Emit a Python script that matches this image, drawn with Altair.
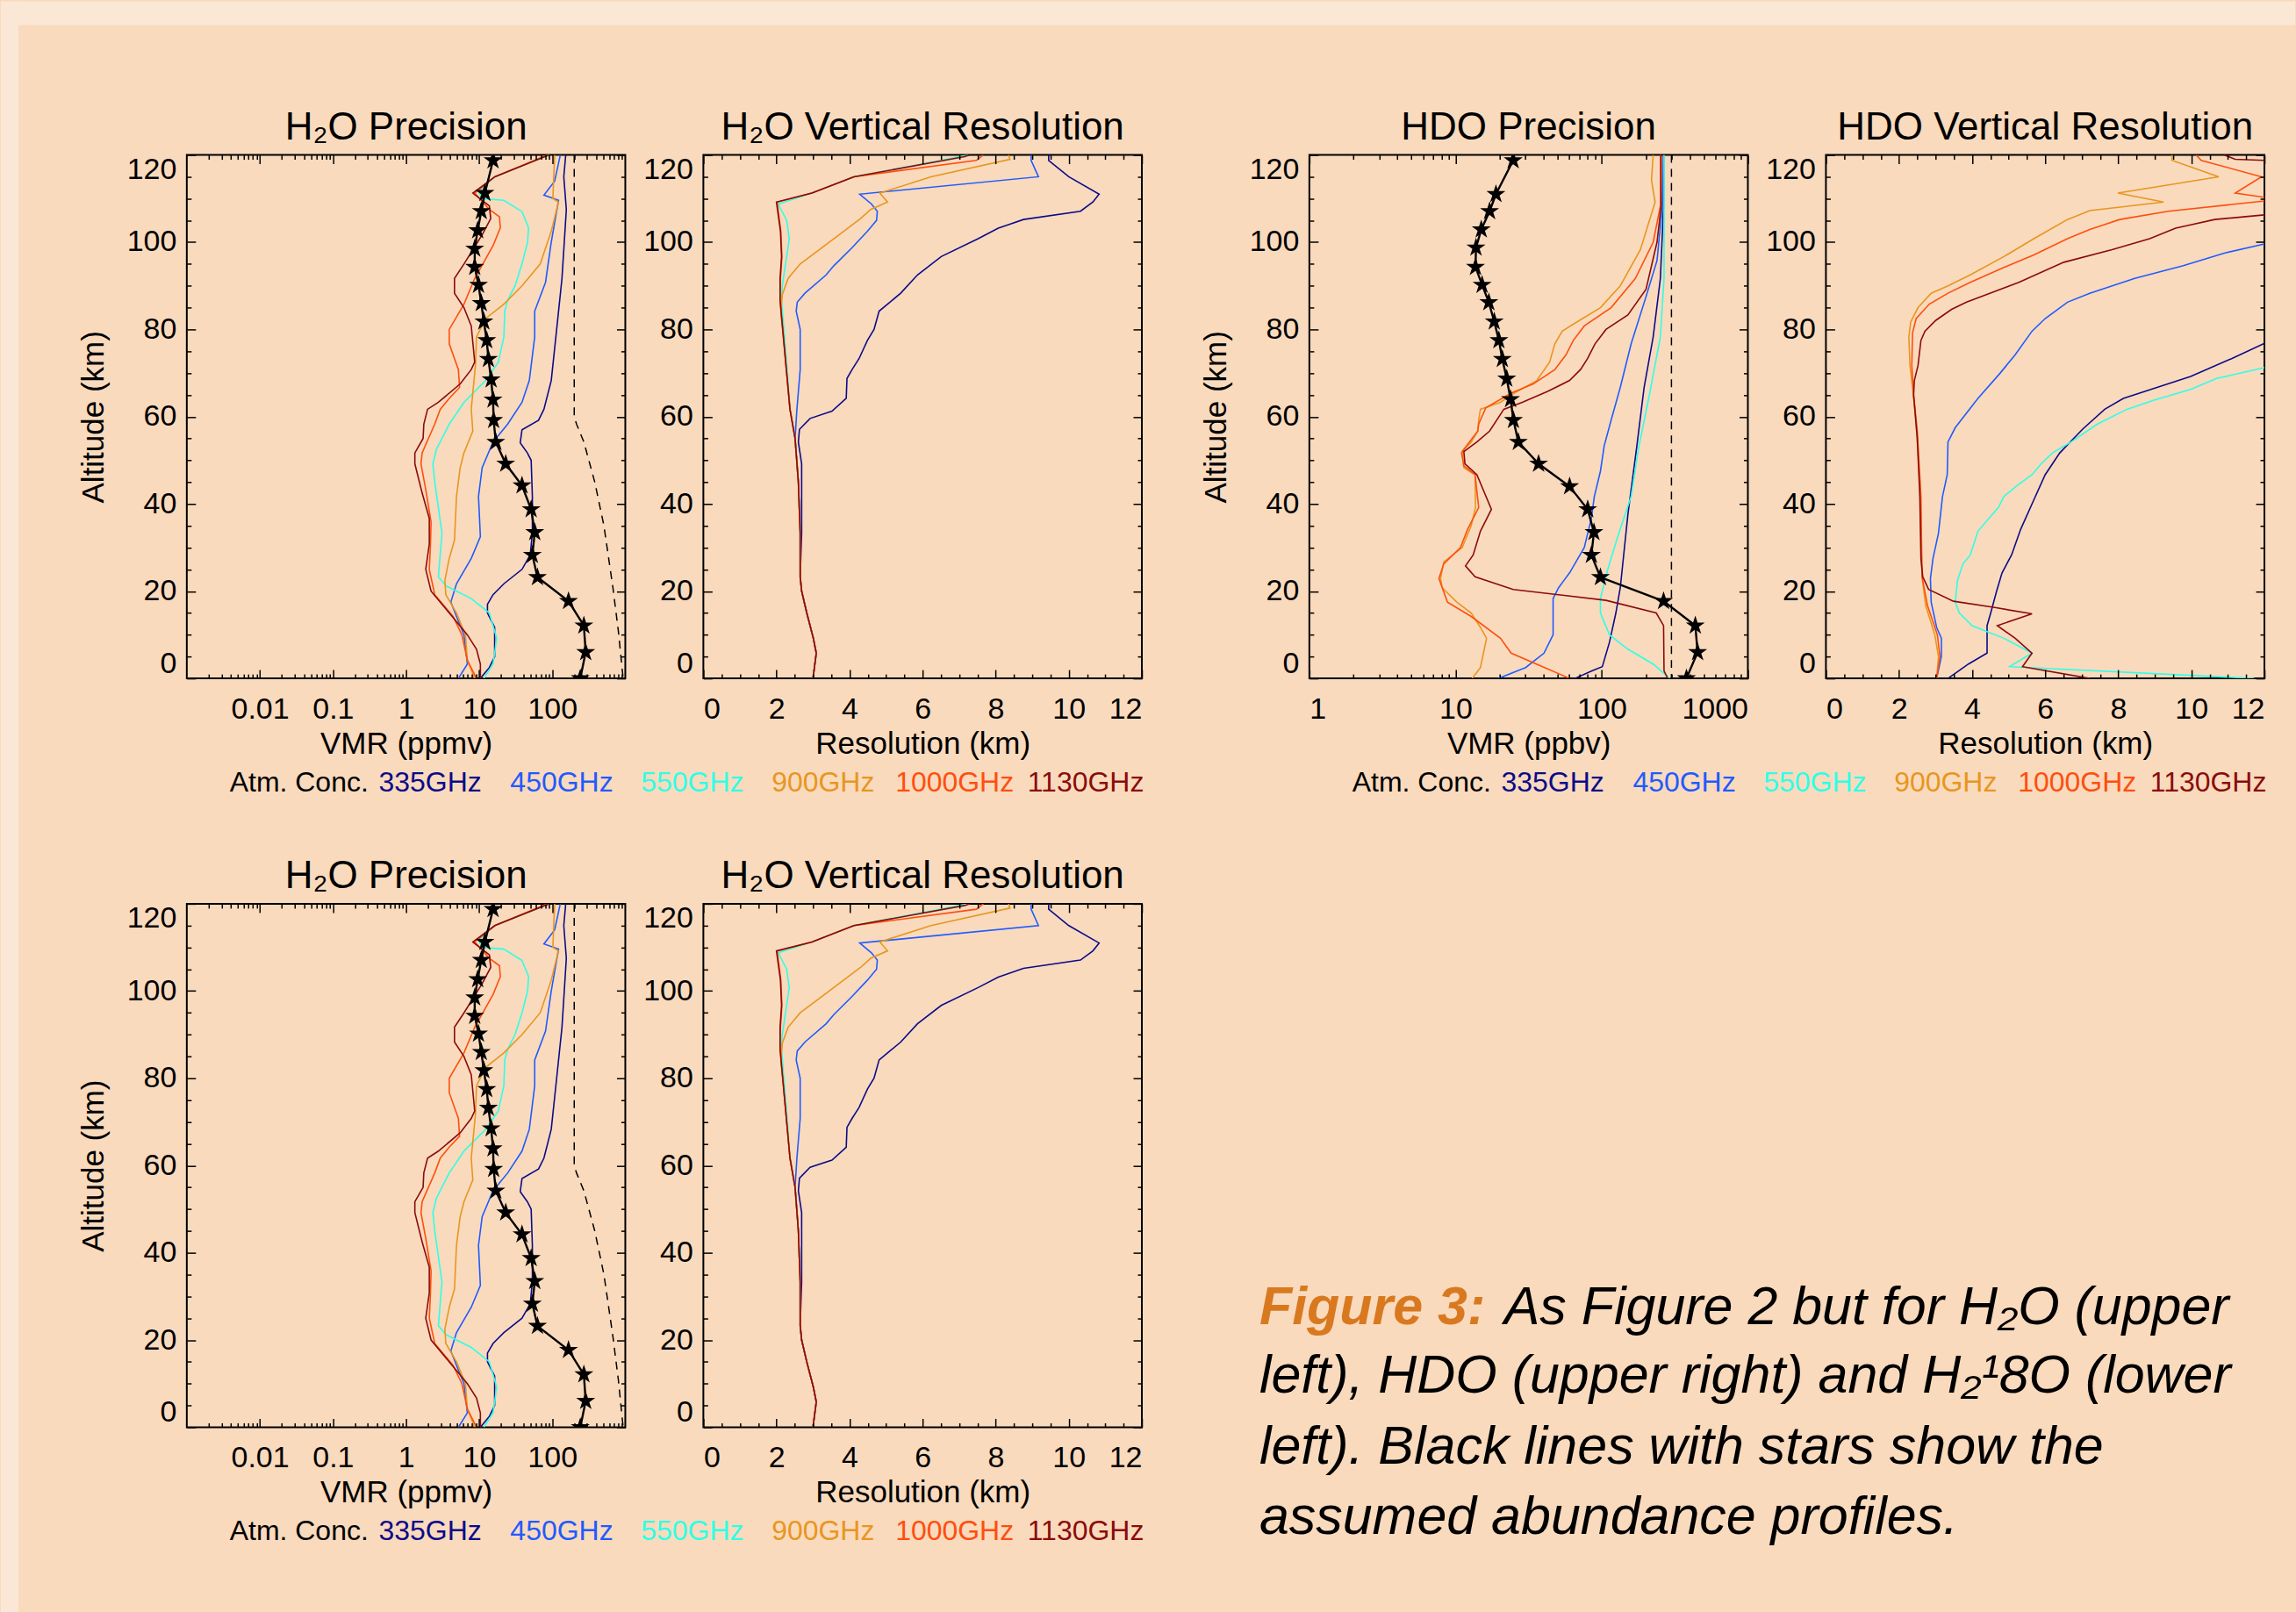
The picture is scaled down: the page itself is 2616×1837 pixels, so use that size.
import altair as alt
import pandas as pd

FONT = "Liberation Sans"
OUTER_BG = "#FBE7D6"
INNER_BG = "#F9DABD"

FREQS = ["335GHz", "450GHz", "550GHz", "900GHz", "1000GHz", "1130GHz"]
FREQ_COLORS = ["#0b0b8a", "#1f5bff", "#2effe6", "#e8961e", "#ff4e0e", "#8b0b0b"]
LEGEND_LABELS = ["Atm. Conc."] + FREQS
LEGEND_COLORS = ["black"] + FREQ_COLORS

ALT_MAJOR = [0, 20, 40, 60, 80, 100, 120]
ALT_MINOR = [5, 10, 15, 25, 30, 35, 45, 50, 55, 65, 70, 75, 85, 90, 95, 105, 110, 115]
PPMV_LABELS = [0.01, 0.1, 1, 10, 100]
PPMV_MINOR = [round(m * 10.0 ** e, 6) for e in range(-3, 3) for m in range(2, 10)]
PPBV_LABELS = [1, 10, 100, 1000]
PPBV_MINOR = [round(m * 10.0 ** e, 6) for e in range(0, 3) for m in range(2, 10)]
RES_LABELS = [0, 2, 4, 6, 8, 10, 12]
RES_MINOR = [0.5, 1, 1.5, 2.5, 3, 3.5, 4.5, 5, 5.5, 6.5, 7, 7.5, 8.5, 9, 9.5, 10.5, 11, 11.5]

TITLES = ["H₂O Precision", "H₂O Vertical Resolution", "HDO Precision", "HDO Vertical Resolution"]
CAPTION_HEAD = "Figure 3:"
CAPTION_LINES = ["As Figure 2 but for H₂O (upper",
                 "left), HDO (upper right) and H₂¹8O (lower",
                 "left). Black lines with stars show the",
                 "assumed abundance profiles."]

# ---------------- H2O precision (altitude km, VMR ppmv) ----------------
H2O_ATM = [(118.75, 15.5), (111.25, 12.0), (107.1, 10.7), (102.7, 9.55), (98.5, 8.7), (94.3, 8.7),
           (90.2, 9.8), (86.0, 10.7), (81.8, 11.6), (77.5, 12.7), (73.2, 13.4), (68.5, 14.6),
           (63.9, 15.5), (59.2, 15.8), (54.2, 16.9), (49.2, 23.1), (44.2, 38.6), (38.75, 51.5),
           (33.5, 57.7), (28.3, 53.5), (23.2, 62.8), (17.7, 167), (12.1, 271), (6.0, 287), (0.0, 242)]
H2O_DASH = [(120, 200), (60, 200), (58.3, 215), (54.2, 271), (45, 382), (35, 510), (20.8, 677),
            (10.8, 804), (2.5, 902), (0, 934)]
H2O_P_335 = [(120, 153), (115, 144), (107.5, 156), (91.7, 136), (80, 115), (68.3, 97), (61.7, 77),
             (59.2, 65), (57, 38.6), (54, 36.5), (51.7, 45.7), (50, 51.5), (41.7, 53.5), (33.3, 53.5),
             (28.3, 50), (25, 38.6), (21.7, 21.8), (19.2, 15.5), (17, 13), (15, 13), (11.7, 16.3),
             (5, 16.3), (2.5, 13.8), (0, 10.4)]
H2O_P_450 = [(120, 129), (114, 108), (110.8, 77), (109.6, 122), (100, 97), (90.8, 81), (84.2, 57.6),
             (78.3, 57.6), (68.3, 48.6), (63.3, 38.6), (58.3, 24.6), (54.2, 15.5), (48.3, 11),
             (41.7, 9.8), (32.5, 10.4), (27.5, 7.8), (21.7, 4.9), (17.5, 4.1), (14.2, 4.9), (10, 6.2),
             (3.3, 6.9), (0, 5.2)]
H2O_P_550 = [(120, 91), (115, 16.4), (111.7, 9.8), (110, 11), (109.6, 21.8), (107, 38.6), (103.3, 47.5),
             (100, 46), (95, 38.6), (90, 31), (86.7, 24.6), (84.2, 22.4), (78.3, 21.8), (72.5, 18.3),
             (68.3, 12.3), (63.3, 6.2), (58.3, 3.9), (52.5, 2.6), (49.2, 2.33), (45, 2.47), (33.3, 3.1),
             (23.3, 2.77), (21.25, 3.5), (18.3, 7.8), (15, 13.8), (9.2, 17.4), (3.3, 15.5), (0, 11.6)]
H2O_P_900 = [(120, 108), (110, 102), (109.2, 122), (102.5, 97), (95, 68.5), (90, 38.6), (85.8, 21.8),
             (82.5, 12.3), (78.3, 9.2), (71.7, 8.9), (61.7, 7.8), (56.7, 8.2), (51.7, 6.2), (48.3, 5.5),
             (41.7, 4.9), (31.7, 4.6), (27.5, 3.9), (22.5, 3.4), (19.2, 3.5), (15, 4.9), (10, 6.5),
             (4.2, 6.9), (0, 8.7)]
H2O_P_1000 = [(120, 86), (115, 16.4), (111.25, 8.7), (107.5, 13.8), (105.8, 19), (103.3, 19.5),
              (99.2, 15.5), (91.7, 8.7), (85.8, 6.2), (80, 3.9), (76.7, 3.9), (70.8, 5.2), (66.7, 5.4),
              (64.2, 3.9), (61.7, 2.94), (58.3, 2.47), (51.7, 1.66), (49.2, 1.6), (43.3, 1.86),
              (35.8, 2.2), (30, 2.15), (25, 2.08), (19.2, 2.47), (14.2, 4.4), (10, 5.8), (4.2, 6.9),
              (0, 9.2)]
H2O_P_1130 = [(120, 91), (115, 16.4), (111.25, 8.2), (108.3, 13.8), (105.4, 14.4), (101.7, 11),
              (95, 6.2), (91.7, 4.6), (88.3, 4.6), (85, 6.2), (80.8, 7.8), (72.5, 8.7), (70.8, 7.8),
              (67.5, 5.5), (63.3, 2.77), (61.7, 1.97), (58.3, 1.75), (55, 1.71), (51.7, 1.32),
              (49.2, 1.32), (42.5, 1.66), (36.7, 2.08), (30.8, 2.08), (25, 1.86), (20, 2.2), (15, 3.9),
              (10, 6.9), (6.7, 9.2), (3.3, 10.4), (0, 10.4)]

# ---------------- H2O vertical resolution (altitude km, resolution km) ----------------
H2O_R_335 = [(0, 3.0), (5.8, 3.09), (9.2, 3.01), (15, 2.83), (20, 2.69), (23.3, 2.65), (33.3, 2.69),
             (49.2, 2.69), (54.2, 2.60), (57.1, 2.63), (59.6, 2.92), (61.25, 3.52), (64.2, 3.91),
             (68.75, 3.93), (70.8, 4.07), (73.3, 4.26), (77.5, 4.49), (80, 4.67), (84.2, 4.81),
             (85.8, 5.04), (88.3, 5.40), (92.5, 5.86), (96.7, 6.51), (100.8, 7.52), (103.2, 8.07),
             (105.2, 8.76), (107.1, 10.32), (109.2, 10.66), (111, 10.83), (115, 10.0), (118.75, 9.45),
             (120, 9.45)]
H2O_R_450 = [(0, 3.0), (5.8, 3.09), (9.2, 3.01), (15, 2.83), (20, 2.69), (23.3, 2.65), (33.3, 2.65),
             (45, 2.60), (55, 2.51), (61.7, 2.56), (70.8, 2.65), (80, 2.65), (84.2, 2.54), (86.25, 2.57),
             (88.3, 2.78), (92.5, 3.36), (94.6, 3.57), (98.75, 4.07), (102.5, 4.49), (105, 4.74),
             (107.1, 4.76), (108.75, 4.60), (111, 4.28), (115, 9.17), (118.75, 8.97), (120, 8.97)]
H2O_R_550 = [(0, 3.0), (5.8, 3.09), (9.2, 3.01), (15, 2.83), (20, 2.69), (23.3, 2.65), (33.3, 2.65),
             (45, 2.60), (55, 2.51), (61.7, 2.37), (70, 2.30), (78.3, 2.22), (86.7, 2.14), (90, 2.16),
             (96.7, 2.28), (100.8, 2.35), (105, 2.28), (108.75, 2.05), (111.25, 2.97), (115, 4.12),
             (118.75, 6.5), (120, 7.24)]
H2O_R_900 = [(0, 3.0), (5.8, 3.09), (9.2, 3.01), (15, 2.83), (20, 2.69), (23.3, 2.65), (33.3, 2.65),
             (45, 2.60), (55, 2.51), (61.7, 2.37), (70, 2.28), (78.3, 2.19), (84, 2.12), (88, 2.16),
             (91.7, 2.32), (95, 2.65), (100.8, 3.57), (105.4, 4.3), (107.5, 4.58), (109.2, 5.04),
             (111.25, 4.83), (115, 6.23), (119, 8.39), (120, 8.35)]
H2O_R_1000 = [(0, 3.0), (5.8, 3.09), (9.2, 3.01), (15, 2.83), (20, 2.69), (23.3, 2.65), (33.3, 2.65),
              (45, 2.60), (55, 2.51), (61.7, 2.37), (70, 2.28), (78.3, 2.19), (86.7, 2.10), (91.7, 2.11),
              (96.7, 2.15), (102.5, 2.12), (109.2, 2.02), (111.25, 2.97), (115, 4.12), (118.75, 7.47),
              (120, 7.66)]
H2O_R_1130 = [(0, 3.0), (5.8, 3.09), (9.2, 3.01), (15, 2.83), (20, 2.69), (23.3, 2.65), (33.3, 2.65),
              (45, 2.60), (55, 2.51), (61.7, 2.37), (70, 2.28), (78.3, 2.19), (86.7, 2.10), (91.7, 2.10),
              (96.7, 2.14), (102.5, 2.11), (109.2, 2.0), (111.25, 2.97), (115, 4.12), (119.6, 7.15),
              (120, 7.29)]

# ---------------- HDO precision (altitude km, VMR ppbv) ----------------
HDO_ATM = [(118.75, 24.8), (111, 18.9), (107.1, 17.1), (102.9, 15.0), (98.75, 13.8), (94.3, 13.7),
           (90.2, 15.2), (86.2, 16.9), (81.8, 18.4), (77.5, 19.8), (73.2, 20.9), (68.7, 22.4),
           (64, 23.8), (59.2, 24.9), (54.2, 26.9), (49.2, 37), (44, 60.3), (38.75, 80.2), (33.5, 88.5),
           (28.3, 85), (23.2, 98), (17.7, 265), (12.1, 437), (6, 453), (0, 380)]
HDO_DASH = [(120, 300), (0, 300)]
HDO_P_335 = [(120, 265), (108.3, 265), (91.7, 252), (78.3, 225), (66.7, 195), (53.3, 174), (37.5, 151),
             (20.8, 134), (15, 125), (8.3, 113), (2.7, 101), (1.7, 85), (0, 65.6)]
HDO_P_450 = [(120, 265), (108.3, 260), (95.8, 239), (87.5, 201), (76.7, 159), (66.7, 134), (59.2, 116),
             (53.3, 104), (47.5, 98), (41.7, 89), (36.7, 85), (30, 76), (24.2, 60.3), (20.8, 50.7),
             (18.3, 46.5), (10, 46.5), (5.8, 40.3), (2.5, 30.2), (0, 19.7)]
HDO_P_550 = [(120, 267), (91.7, 267), (78.3, 252), (65, 212), (52.5, 178), (41.7, 159), (33.3, 131),
             (25, 110), (18.3, 98), (15, 98), (10, 113), (6.7, 151), (3.3, 225), (0, 292)]
HDO_P_900 = [(120, 225), (114.2, 219), (109.2, 232), (98.3, 184), (90, 134), (85, 98), (81.7, 67.5),
             (79.6, 53.7), (76.7, 47.8), (72.5, 44), (68.3, 36), (65, 24), (63.3, 20.3), (61.7, 14.8),
             (59.2, 14.4), (56.7, 14.2), (54.2, 12.8), (52, 11.1), (48.3, 11.4), (46.7, 13.6),
             (39.2, 13.7), (35, 12.8), (30, 11.1), (26.7, 8.3), (22.9, 7.9), (20.8, 8.1), (17.5, 10.2),
             (15, 12.8), (11.7, 14.8), (9.2, 16.3), (2.5, 14.8), (0, 13)]
HDO_P_1000 = [(120, 252), (108.3, 252), (100, 225), (91.7, 170), (85, 116), (80.8, 76), (77.5, 64),
              (74.2, 57), (70.8, 47.8), (67.5, 34), (65.4, 24), (62, 16.1), (58.3, 14.4), (56.7, 14.2),
              (52, 11.1), (51.7, 11.0), (48.75, 11.4), (46.7, 13.6), (39.2, 14.4), (34.2, 12.1),
              (30, 10.8), (26.25, 8.3), (22.9, 7.7), (17.5, 8.8), (14.2, 12.8), (9.2, 20.3), (5.8, 24),
              (0, 60.3)]
HDO_P_1130 = [(120, 255), (108.3, 255), (100, 239), (89.2, 201), (83.3, 151), (80, 107), (76.7, 90),
              (73.3, 80), (70.8, 71.6), (68.3, 60.3), (65.8, 42.7), (63.3, 28.6), (61.7, 21.4),
              (56.7, 17.1), (54.2, 14), (52, 11.4), (49.2, 11.6), (46.7, 14), (38.75, 17.6),
              (33.75, 14.8), (28.3, 13.2), (25.8, 11.7), (23.3, 13.6), (20.4, 24.8), (17.9, 107),
              (15, 236), (12.1, 265), (1.7, 267), (0, 283)]

# ---------------- HDO vertical resolution (altitude km, resolution km) ----------------
HDO_R_335 = [(0, 3.34), (3.3, 3.90), (5.8, 4.41), (12.1, 4.41), (15, 4.51), (20, 4.67), (24.2, 4.82),
             (28.3, 5.08), (34.2, 5.33), (40, 5.64), (46.7, 6.0), (51.7, 6.40), (57.1, 7.02),
             (61.7, 7.63), (64.2, 8.14), (66.7, 9.06), (69.2, 9.98), (73.3, 11.1), (76.8, 12.0), (78, 12.8)]
HDO_R_450 = [(0, 3.03), (5, 3.16), (9.2, 3.16), (11.7, 3.03), (17.5, 2.88), (22.9, 2.86), (27.5, 2.93),
             (33.3, 3.08), (41.7, 3.19), (46.7, 3.32), (54.2, 3.34), (57.5, 3.54), (64.2, 4.16),
             (70, 4.77), (74.2, 5.18), (79.6, 5.64), (82.5, 6.0), (86.25, 6.61), (88.3, 7.22),
             (91.7, 8.45), (94.6, 9.78), (97.5, 10.9), (99.6, 12.0), (101, 13.0)]
HDO_R_550 = [(0, 11.72), (2.7, 5.03), (5.8, 5.64), (9.2, 4.87), (12.1, 4.0), (15, 3.65), (17.5, 3.54),
             (22.5, 3.60), (26.25, 3.75), (28.3, 3.95), (33.75, 4.16), (39.2, 4.72), (41.7, 4.87),
             (44.2, 5.23), (46.7, 5.64), (49.2, 5.89), (51.7, 6.2), (54.2, 6.71), (58.3, 7.43),
             (61.7, 8.24), (63.75, 8.96), (66.25, 9.98), (68.75, 10.69), (71.25, 12.0), (72.5, 12.8)]
HDO_R_900 = [(0, 3.03), (5, 3.08), (10, 2.98), (16.7, 2.73), (23.3, 2.63), (33.3, 2.60), (45, 2.57),
             (58.3, 2.47), (66.7, 2.37), (71.7, 2.30), (78.3, 2.27), (81.7, 2.32), (85, 2.52),
             (88.3, 2.88), (90, 3.34), (92.5, 3.95), (96.7, 4.87), (100.8, 5.69), (105.2, 6.61),
             (107.25, 7.22), (109.2, 9.24), (111.25, 7.99), (115, 10.75), (118.75, 9.47), (120, 9.47)]
HDO_R_1000 = [(0, 3.03), (5, 3.12), (10, 3.05), (16.7, 2.78), (23.3, 2.63), (41.7, 2.60), (56.7, 2.50),
              (65, 2.40), (71.7, 2.35), (79.2, 2.37), (82.5, 2.47), (85.8, 2.83), (88.3, 3.34),
              (90.8, 3.95), (94.2, 4.87), (97.1, 5.69), (100.8, 6.61), (102.9, 7.22), (105.2, 8.04),
              (107.1, 9.37), (109.8, 12.4), (111.25, 11.2), (115, 11.92), (118.75, 10.27), (120, 10.13)]
HDO_R_1130 = [(0, 7.22), (2.7, 5.38), (5.8, 5.64), (9.2, 5.18), (12.1, 4.69), (14.8, 5.64), (16.25, 4.62),
              (17.7, 3.49), (20.4, 2.81), (23.3, 2.65), (27.5, 2.60), (41.7, 2.57), (55, 2.50), (65, 2.40),
              (68.3, 2.42), (71.7, 2.52), (77.5, 2.60), (79.6, 2.71), (82.1, 3.01), (84.6, 3.44),
              (86.25, 3.85), (90.8, 5.28), (95.4, 6.51), (98.3, 7.83), (100.8, 8.86), (103.2, 9.57),
              (105.2, 10.64), (106.25, 12.0), (107, 13.5), (118.5, 13.5), (118.75, 12.0), (119, 11.2),
              (120, 10.9)]

H2O_PREC = [H2O_P_335, H2O_P_450, H2O_P_550, H2O_P_900, H2O_P_1000, H2O_P_1130]
H2O_RES = [H2O_R_335, H2O_R_450, H2O_R_550, H2O_R_900, H2O_R_1000, H2O_R_1130]
HDO_PREC = [HDO_P_335, HDO_P_450, HDO_P_550, HDO_P_900, HDO_P_1000, HDO_P_1130]
HDO_RES = [HDO_R_335, HDO_R_450, HDO_R_550, HDO_R_900, HDO_R_1000, HDO_R_1130]

# ---------------- layout / style ----------------
W, H = 500, 597
P1_X, P1_Y = 212, 175
CANVAS_W, CANVAS_H = 2616, 1837
FRAME_L, FRAME_T = 20, 27
LEGEND_X = [128, 277.5, 427.5, 576.5, 725.5, 875.5, 1025]
LEGEND_Y = 726
STAR = ("M0,-1L0.2245,-0.309L0.951,-0.309L0.363,0.118L0.588,0.809L0,0.382L-0.588,0.809"
        "L-0.363,0.118L-0.951,-0.309L-0.2245,-0.309Z")
ONE = pd.DataFrame({"k": [0]})
YSCALE = alt.Scale(domain=[0, 120], nice=False, zero=False)
AX = dict(domain=False, grid=False, tickColor="black", tickWidth=1.5, zindex=1)
VIEW = alt.ViewBackground(stroke="black", strokeWidth=2)


def xy(xsc):
    return dict(x=alt.X("val:Q", scale=xsc, axis=None), y=alt.Y("alt:Q", scale=YSCALE, axis=None))


def to_df(pts):
    return pd.DataFrame([{"alt": a, "val": v, "i": i} for i, (a, v) in enumerate(pts)])


def axis_layers(xsc, xdom, xlab, xminor, xtitle, ytitle):
    base = alt.Chart(pd.DataFrame({"ax": xdom, "ay": [0, 120]})).mark_point(opacity=0)
    lab = dict(labelFont=FONT, labelFontSize=34, labelColor="black", labelOverlap=False)
    tit = dict(titleFont=FONT, titleFontSize=35, titleFontWeight="normal", titleColor="black")
    main = base.encode(
        x=alt.X("ax:Q", scale=xsc, title=xtitle,
                axis=alt.Axis(orient="bottom", values=xlab, tickSize=10, offset=-10, format="~g",
                              labelPadding=18, titlePadding=5, **lab, **tit, **AX)),
        y=alt.Y("ay:Q", scale=YSCALE, title=ytitle,
                axis=alt.Axis(orient="left", values=ALT_MAJOR, tickSize=10, offset=-10, labelFlush=True,
                              labelPadding=12, titlePadding=20, **lab, **tit, **AX)))
    minor = base.encode(
        x=alt.X("ax:Q", scale=xsc, title=None,
                axis=alt.Axis(orient="bottom", values=xminor, tickSize=5, offset=-5, labels=False, **AX)),
        y=alt.Y("ay:Q", scale=YSCALE, title=None,
                axis=alt.Axis(orient="left", values=ALT_MINOR, tickSize=5, offset=-5, labels=False, **AX)))
    top = base.encode(
        x=alt.X("ax:Q", scale=xsc, title=None,
                axis=alt.Axis(orient="top", values=xlab, tickSize=10, offset=-10, labels=False, **AX)),
        y=alt.Y("ay:Q", scale=YSCALE, title=None,
                axis=alt.Axis(orient="right", values=ALT_MAJOR, tickSize=10, offset=-10, labels=False, **AX)))
    topm = base.encode(
        x=alt.X("ax:Q", scale=xsc, title=None,
                axis=alt.Axis(orient="top", values=xminor, tickSize=5, offset=-5, labels=False, **AX)),
        y=alt.Y("ay:Q", scale=YSCALE, title=None,
                axis=alt.Axis(orient="right", values=ALT_MINOR, tickSize=5, offset=-5, labels=False, **AX)))
    return [main, minor, top, topm]


def curves_layer(curves, xsc):
    rows = []
    for name, pts in zip(FREQS, curves):
        for i, (a, v) in enumerate(pts):
            rows.append({"series": name, "alt": a, "val": v, "i": i})
    return alt.Chart(pd.DataFrame(rows)).mark_line(strokeWidth=1.6, clip=True).encode(
        color=alt.Color("series:N", scale=alt.Scale(domain=FREQS, range=FREQ_COLORS), legend=None),
        order=alt.Order("i:Q"), **xy(xsc))


def atm_layers(pts, xsc):
    df = to_df(pts)
    line = alt.Chart(df).mark_line(color="black", strokeWidth=2.4, clip=True).encode(
        order=alt.Order("i:Q"), **xy(xsc))
    stars = alt.Chart(df).mark_point(shape=STAR, filled=True, color="black", size=520, opacity=1,
                                     clip=True).encode(**xy(xsc))
    return [line, stars]


def dash_layer(pts, xsc):
    return alt.Chart(to_df(pts)).mark_line(color="black", strokeWidth=1.5, strokeDash=[9, 7],
                                           clip=True).encode(order=alt.Order("i:Q"), **xy(xsc))


def legend_layers():
    return [alt.Chart(ONE).mark_text(text=t, color=c, font=FONT, fontSize=32, align="center",
                                     baseline="alphabetic").encode(x=alt.value(cx), y=alt.value(LEGEND_Y))
            for t, c, cx in zip(LEGEND_LABELS, LEGEND_COLORS, LEGEND_X)]


def title_layer(text):
    return alt.Chart(ONE).mark_text(text=text, font=FONT, fontSize=44, color="black", align="center",
                                    baseline="alphabetic").encode(x=alt.value(W / 2), y=alt.value(-18))


def frame_layers():
    top = alt.Chart(ONE).mark_rect(color=OUTER_BG).encode(
        x=alt.value(-P1_X), x2=alt.value(CANVAS_W - P1_X), y=alt.value(-P1_Y), y2=alt.value(FRAME_T - P1_Y))
    left = alt.Chart(ONE).mark_rect(color=OUTER_BG).encode(
        x=alt.value(-P1_X), x2=alt.value(FRAME_L - P1_X), y=alt.value(-P1_Y), y2=alt.value(CANVAS_H - P1_Y))
    return [top, left]


def caption_layers():
    layers = [alt.Chart(ONE).mark_text(text=CAPTION_HEAD, font=FONT, fontSize=61, fontStyle="italic",
                                       fontWeight="bold", color="#D9791F", align="left",
                                       baseline="alphabetic").encode(x=alt.value(634), y=alt.value(479))]
    pos = [(913, 479), (634, 558), (634, 639), (634, 719)]
    for line, (px, py) in zip(CAPTION_LINES, pos):
        layers.append(alt.Chart(ONE).mark_text(text=line, font=FONT, fontSize=61, fontStyle="italic",
                                               color="black", align="left", baseline="alphabetic")
                      .encode(x=alt.value(px), y=alt.value(py)))
    return layers


def panel(title, xsc, xdom, xlab, xminor, xtitle, ytitle, layers, pre=(), post=()):
    all_layers = list(pre) + axis_layers(xsc, xdom, xlab, xminor, xtitle, ytitle) + list(layers) + \
        [title_layer(title)] + list(post)
    return alt.layer(*all_layers).resolve_axis(x="independent", y="independent").properties(
        width=W, height=H, view=VIEW)


ppmv = alt.Scale(type="log", domain=[0.001, 1000], nice=False)
ppbv = alt.Scale(type="log", domain=[1, 1000], nice=False)
res = alt.Scale(domain=[0, 12], nice=False, zero=False)

p1 = panel(TITLES[0], ppmv, [0.001, 1000], PPMV_LABELS, PPMV_MINOR, "VMR (ppmv)", "Altitude (km)",
           [curves_layer(H2O_PREC, ppmv), dash_layer(H2O_DASH, ppmv)] + atm_layers(H2O_ATM, ppmv),
           pre=frame_layers(), post=legend_layers())
p2 = panel(TITLES[1], res, [0, 12], RES_LABELS, RES_MINOR, "Resolution (km)", None,
           [curves_layer(H2O_RES, res)])
p3 = panel(TITLES[2], ppbv, [1, 1000], PPBV_LABELS, PPBV_MINOR, "VMR (ppbv)", "Altitude (km)",
           [curves_layer(HDO_PREC, ppbv), dash_layer(HDO_DASH, ppbv)] + atm_layers(HDO_ATM, ppbv),
           post=legend_layers())
p4 = panel(TITLES[3], res, [0, 12], RES_LABELS, RES_MINOR, "Resolution (km)", None,
           [curves_layer(HDO_RES, res)])
p5 = panel(TITLES[0], ppmv, [0.001, 1000], PPMV_LABELS, PPMV_MINOR, "VMR (ppmv)", "Altitude (km)",
           [curves_layer(H2O_PREC, ppmv), dash_layer(H2O_DASH, ppmv)] + atm_layers(H2O_ATM, ppmv),
           post=legend_layers())
p6 = panel(TITLES[1], res, [0, 12], RES_LABELS, RES_MINOR, "Resolution (km)", None,
           [curves_layer(H2O_RES, res)], post=caption_layers())

gap = alt.Chart(ONE).mark_point(opacity=0).encode(x=alt.value(0), y=alt.value(0)).properties(
    width=13, height=H, view=alt.ViewBackground(stroke="transparent"))

chart = alt.concat(p1, p2, gap, p3, p4, p5, p6, columns=5, spacing={"row": 257, "column": 89},
                   bounds="flush").properties(padding=0, background=INNER_BG)

chart.save("out.html", embed_options={"renderer": "svg", "actions": False})
